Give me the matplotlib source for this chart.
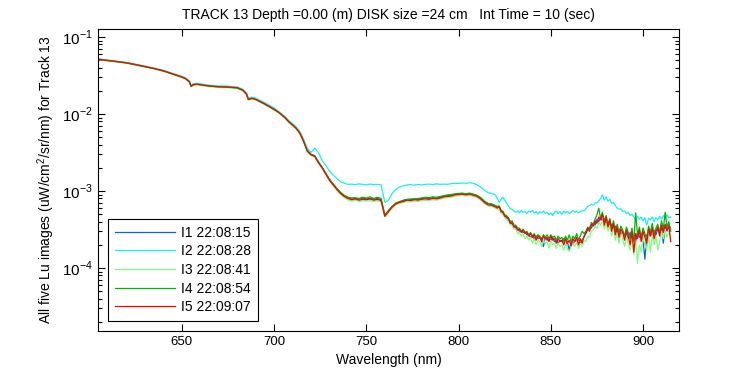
import numpy as np
import matplotlib
matplotlib.use("Agg")
import matplotlib.pyplot as plt
from matplotlib.ticker import LogLocator, NullFormatter, FixedLocator

plt.rcParams['font.family'] = ['Liberation Sans', 'DejaVu Sans']
plt.rcParams['mathtext.fontset'] = 'custom'
plt.rcParams['mathtext.rm'] = 'Liberation Sans'

# wavelength grid (nm): coarse in the smooth blue part, finer where noisy
wl_a = [605, 610, 615, 620, 625, 630, 635, 640, 645, 650, 652, 654, 655, 656,
        658, 660, 665, 670, 675, 680, 683, 685, 686, 688, 690, 695, 700]
wavelength = np.concatenate([wl_a, np.arange(702, 821, 2), np.arange(821, 916)])

# Lu values in units of 1e-4 uW/cm^2/sr/nm
i1 = [515, 496, 480, 463, 439, 414, 390, 365, 333, 304, 289, 265, 232, 241, 245, 241, 232, 227, 225, 220, 206, 184, 157, 161, 156, 136, 116,
      108, 99, 90, 80, 73, 66, 57, 45, 34, 30.0, 28.8, 24.0, 20.4, 17.0, 14.1, 12.2, 10.7, 9.5, 8.7, 8.2,
      7.9, 8.0, 7.8, 8.1, 7.9, 8.0, 7.8, 8.0, 7.7, 4.9, 5.6, 6.3, 6.9, 7.2, 7.5, 7.7, 7.7, 7.9, 7.8, 8.0,
      8.1, 8.0, 8.2, 8.1, 8.3, 8.5, 8.7, 8.8, 9.0, 9.2, 9.2, 9.1, 9.2, 9.0, 8.7, 8.1, 7.3, 6.8, 6.7, 6.4,
      6.2, 6.1, 5.6, 5.2, 4.9, 4.5, 4.3, 4.0, 3.7, 3.5, 3.3, 3.2, 3.0, 3.0, 2.9, 2.9, 2.7, 2.7, 2.5, 2.6,
      2.4, 2.6, 2.4, 2.5, 2.3, 1.9, 2.5, 2.3, 2.4, 2.3, 2.5, 2.2, 2.3, 2.1, 2.3, 2.2, 2.4, 2.0, 2.2, 1.7,
      2.2, 2.0, 2.3, 2.2, 2.4, 2.1, 2.3, 2.5, 2.9, 3.1, 3.4, 3.3, 3.8, 3.6, 4.3, 4.0, 4.5, 4.1, 4.4, 3.8,
      4.0, 3.5, 3.7, 3.2, 3.5, 2.9, 3.2, 2.7, 3.0, 2.6, 2.8, 2.4, 2.9, 2.3, 2.7, 2.2, 2.9, 2.5, 2.8, 2.3,
      1.3, 2.7, 2.5, 3.0, 2.6, 3.1, 2.7, 3.2, 2.8, 3.3, 2.1, 3.4, 3.0, 3.6, 3.2]
i2 = [520, 502, 486, 468, 444, 420, 396, 370, 338, 309, 294, 270, 236, 247, 250, 246, 237, 232, 230, 225, 210, 188, 161, 166, 161, 140, 120,
      110, 101, 92, 82, 75, 68, 59, 47, 36, 31.6, 36.0, 31.6, 25.0, 21.4, 18.2, 16.2, 14.5, 13.2, 12.6, 12.2,
      12.3, 12.1, 12.4, 12.2, 12.0, 12.3, 12.1, 12.2, 12.0, 7.1, 7.6, 9.3, 10.5, 11.2, 11.7, 12.0, 12.1, 11.9, 12.2, 12.0,
      12.2, 12.3, 12.1, 12.4, 12.2, 12.3, 12.2, 12.5, 12.6, 12.5, 12.7, 12.6, 12.8, 12.6, 12.0, 11.2, 10.2, 9.5, 9.3, 8.9,
      8.0, 7.1, 7.8, 8.3, 7.6, 7.0, 6.4, 5.9, 5.8, 5.5, 5.3, 5.5, 5.2, 5.6, 5.3, 5.4, 5.1, 5.5, 5.3, 5.6,
      5.2, 5.4, 5.0, 5.4, 5.2, 5.5, 5.1, 5.3, 4.9, 5.2, 4.8, 5.3, 5.5, 5.1, 5.4, 5.0, 5.5, 5.2, 5.4, 5.1,
      5.3, 5.6, 5.3, 5.5, 5.2, 5.4, 5.6, 5.5, 5.9, 6.3, 6.5, 6.7, 6.6, 7.0, 7.0, 7.4, 8.0, 8.9, 7.6, 8.4,
      7.4, 7.8, 6.9, 7.1, 6.5, 6.0, 5.8, 5.9, 5.4, 5.5, 5.1, 5.3, 4.8, 5.0, 4.6, 4.2, 4.7, 4.3, 4.6, 4.1,
      4.5, 3.6, 4.4, 4.2, 4.6, 4.0, 4.5, 4.2, 4.7, 4.3, 4.8, 4.4, 4.9, 4.5, 4.6]
i3 = [506, 488, 472, 455, 430, 405, 383, 357, 326, 297, 283, 258, 225, 235, 239, 235, 226, 221, 219, 214, 200, 178, 152, 157, 152, 132, 112,
      105, 96, 87, 77, 70, 63, 54, 43, 32, 28.8, 27.5, 22.8, 19.5, 16.2, 13.5, 11.7, 10.2, 9.0, 8.2, 7.7,
      7.4, 7.6, 7.3, 7.5, 7.4, 7.5, 7.3, 7.5, 7.2, 4.6, 5.2, 6.0, 6.6, 6.9, 7.1, 7.3, 7.2, 7.4, 7.3, 7.5,
      7.6, 7.5, 7.7, 7.6, 7.8, 8.1, 8.2, 8.3, 8.6, 8.7, 8.8, 8.6, 8.8, 8.5, 8.2, 7.6, 6.9, 6.4, 6.3, 6.0,
      5.8, 5.9, 5.1, 5.0, 4.5, 4.2, 4.1, 3.6, 3.6, 3.2, 3.2, 2.8, 2.9, 2.6, 2.8, 2.4, 2.6, 2.3, 2.5, 2.1,
      2.4, 2.0, 2.3, 2.2, 1.9, 2.3, 2.1, 2.2, 1.8, 2.3, 2.0, 2.1, 1.8, 2.1, 1.9, 2.0, 1.7, 2.1, 1.75, 1.65,
      1.9, 2.1, 1.9, 2.2, 1.8, 2.1, 1.9, 2.3, 2.2, 2.6, 2.5, 3.0, 3.1, 3.5, 3.3, 3.9, 3.6, 4.2, 3.2, 3.9,
      3.0, 3.6, 2.6, 3.3, 2.3, 2.9, 2.1, 2.8, 2.4, 1.9, 2.6, 2.1, 1.7, 2.5, 1.5, 2.3, 1.15, 2.0, 1.6, 2.5,
      2.0, 1.7, 2.7, 1.6, 2.8, 2.0, 2.6, 1.7, 2.2, 3.0, 2.4, 3.2, 2.5, 3.0, 2.6]
i4 = [512, 494, 478, 460, 436, 411, 388, 362, 330, 301, 287, 262, 228, 239, 243, 239, 230, 225, 223, 218, 203, 181, 154, 159, 154, 134, 114,
      107, 98, 89, 79, 72, 65, 56, 44, 33, 29.8, 28.5, 23.8, 20.3, 16.9, 14.2, 12.4, 10.8, 9.6, 8.8, 8.3,
      8.1, 8.2, 8.0, 8.3, 8.1, 8.4, 8.0, 8.3, 8.0, 4.8, 5.5, 6.3, 7.0, 7.3, 7.6, 7.8, 7.9, 7.9, 8.0, 8.1,
      8.3, 8.2, 8.4, 8.3, 8.5, 8.7, 8.9, 9.0, 9.2, 9.3, 9.4, 9.2, 9.4, 9.1, 8.8, 8.2, 7.4, 6.9, 6.8, 6.5,
      6.3, 6.4, 5.6, 5.5, 4.9, 4.8, 4.5, 4.0, 4.1, 3.6, 3.6, 3.3, 3.3, 3.0, 3.2, 2.9, 3.0, 2.7, 2.9, 2.6,
      2.8, 2.5, 2.7, 2.6, 2.4, 2.7, 2.5, 2.7, 2.4, 2.7, 2.5, 2.6, 2.3, 2.6, 2.4, 2.5, 2.2, 2.6, 2.3, 2.7,
      2.2, 2.6, 2.4, 2.8, 2.3, 2.6, 3.0, 2.8, 3.0, 3.4, 3.2, 3.9, 3.7, 4.3, 4.9, 6.0, 4.4, 5.3, 4.0, 4.8,
      3.7, 4.4, 3.3, 4.1, 3.0, 3.7, 2.8, 3.5, 3.1, 2.6, 3.4, 2.9, 2.4, 3.3, 2.2, 5.2, 2.7, 3.4, 2.5, 3.3,
      2.8, 2.4, 3.5, 2.9, 3.8, 2.7, 3.3, 3.7, 2.9, 4.1, 3.2, 5.3, 3.4, 4.0, 3.0]
i5 = [513, 494, 479, 461, 437, 412, 389, 363, 331, 302, 288, 263, 229, 240, 244, 240, 231, 226, 224, 219, 204, 182, 155, 160, 155, 135, 115,
      107, 98, 89, 79, 72, 65, 56, 44, 33, 29.5, 28.2, 23.4, 20.0, 16.6, 13.8, 12.0, 10.5, 9.3, 8.5, 8.0,
      7.7, 7.9, 7.6, 7.8, 7.7, 7.9, 7.6, 7.8, 7.5, 4.7, 5.4, 6.2, 6.8, 7.1, 7.3, 7.6, 7.5, 7.7, 7.6, 7.8,
      7.9, 7.8, 8.0, 7.9, 8.1, 8.4, 8.5, 8.6, 8.9, 9.0, 9.1, 8.9, 9.1, 8.8, 8.5, 7.9, 7.1, 6.6, 6.5, 6.2,
      6.0, 6.3, 5.4, 5.3, 4.7, 4.6, 4.4, 3.8, 3.9, 3.4, 3.5, 3.1, 3.2, 2.9, 3.1, 2.8, 2.9, 2.6, 2.8, 2.5,
      2.7, 2.3, 2.6, 2.5, 2.2, 2.6, 2.4, 2.5, 2.2, 2.6, 2.3, 2.4, 2.1, 2.4, 2.2, 2.3, 2.0, 2.4, 2.1, 2.3,
      1.95, 2.4, 2.2, 2.5, 2.0, 2.4, 2.1, 2.6, 2.8, 3.3, 3.0, 3.7, 3.5, 4.1, 3.8, 4.6, 4.2, 5.0, 3.6, 4.6,
      3.4, 4.2, 3.0, 3.8, 2.7, 3.4, 2.5, 3.2, 2.9, 2.3, 3.1, 2.6, 2.0, 3.0, 1.6, 2.8, 2.4, 3.1, 2.2, 3.0,
      2.5, 2.1, 3.2, 2.6, 3.3, 2.4, 3.0, 3.4, 2.6, 3.6, 2.9, 3.7, 3.1, 3.5, 2.2]

labels = ['I1 22:08:15', 'I2 22:08:28', 'I3 22:08:41', 'I4 22:08:54', 'I5 22:09:07']
colors = ['#0a64dc', '#19f0f0', '#80ff80', '#00b400', '#ff0000']
series = [i1, i2, i3, i4, i5]

fig = plt.figure(figsize=(7.5, 3.75), dpi=100)
ax = fig.add_axes([98 / 750, 44 / 375, 581 / 750, 302 / 375])

for vals, lab, col in zip(series, labels, colors):
    ax.plot(wavelength, np.array(vals) * 1e-4, color=col, lw=0.9, label=lab)

ax.set_yscale('log')
ax.set_xlim(604.5, 919.5)
ax.set_ylim(10 ** -4.818, 10 ** -0.896)

ax.set_xticks([650, 700, 750, 800, 850, 900])
ax.yaxis.set_major_locator(FixedLocator([1e-4, 1e-3, 1e-2, 1e-1]))
ax.set_yticklabels(['$10^{-4}$', '$10^{-3}$', '$10^{-2}$', '$10^{-1}$'])
ax.yaxis.set_minor_locator(LogLocator(base=10, subs=np.arange(2, 10), numticks=20))
ax.yaxis.set_minor_formatter(NullFormatter())
ax.tick_params(which='both', direction='in', top=True, right=True, labelsize=9.5, width=0.8)
ax.tick_params(which='major', length=5)
ax.tick_params(which='minor', length=3)
ax.tick_params(axis='y', which='major', labelsize=11)
for s in ax.spines.values():
    s.set_linewidth(0.8)

ax.set_xlabel('Wavelength (nm)', fontsize=10)
ax.set_ylabel('All five Lu images (uW/cm$^2$/sr/nm) for Track 13', fontsize=10)
ax.set_title('TRACK 13 Depth =0.00 (m) DISK size =24 cm   Int Time = 10 (sec)', fontsize=10, pad=7)

leg = ax.legend(loc='lower left', bbox_to_anchor=(0.017, 0.033), fontsize=10, handlelength=4.3,
                fancybox=False, edgecolor='black', framealpha=1, borderaxespad=0,
                labelspacing=0.33, handletextpad=0.5, borderpad=0.5)
leg.get_frame().set_linewidth(0.8)

fig.savefig('out.png', dpi=100)
